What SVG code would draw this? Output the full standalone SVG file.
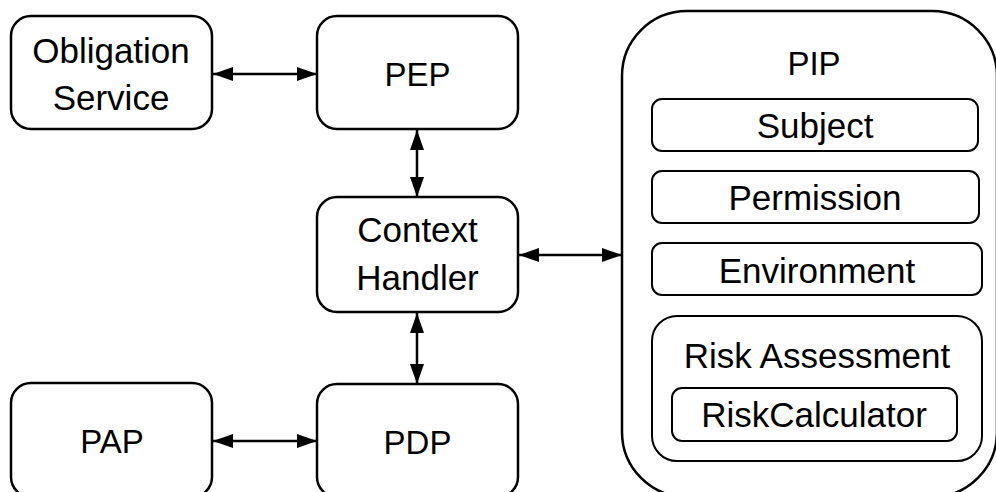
<svg xmlns="http://www.w3.org/2000/svg" width="996" height="492" viewBox="0 0 996 492">
  <style>
    .box { fill: #ffffff; stroke: #000000; stroke-width: 2.5; }
    .inner { fill: #ffffff; stroke: #000000; stroke-width: 2; }
    .lbl { font-family: "Liberation Sans", Arial, sans-serif; font-size: 35px; fill: #000000; text-anchor: middle; }
    .lbl.acr { font-size: 33px; }
    .link { stroke: #000000; stroke-width: 2.5; fill: none; marker-start: url(#head); marker-end: url(#head); }
  </style>
  <defs>
    <marker id="head" markerUnits="userSpaceOnUse" markerWidth="20" markerHeight="14" refX="20" refY="7" orient="auto-start-reverse" viewBox="0 0 20 14">
      <path d="M0,0 L20,7 L0,14 Z" fill="#000000"/>
    </marker>
  </defs>
  <rect width="996" height="492" fill="#ffffff"/>

  <!-- connectors -->
  <g id="connectors">
    <line class="link" x1="213" y1="74" x2="317" y2="74"/>
    <line class="link" x1="417" y1="130" x2="417" y2="197"/>
    <line class="link" x1="519" y1="255" x2="622" y2="255"/>
    <line class="link" x1="417" y1="313" x2="417" y2="384"/>
    <line class="link" x1="213" y1="441" x2="317" y2="441"/>
  </g>

  <g id="obligation-service">
    <rect class="box" x="11" y="16" width="201" height="113" rx="20"/>
    <text class="lbl" x="111" y="63">Obligation</text>
    <text class="lbl" x="111" y="110">Service</text>
  </g>

  <g id="pep">
    <rect class="box" x="317" y="16" width="201" height="113" rx="20"/>
    <text class="lbl acr" x="417.5" y="86">PEP</text>
  </g>

  <g id="context-handler">
    <rect class="box" x="317" y="197" width="201" height="115" rx="20"/>
    <text class="lbl" x="417.5" y="242">Context</text>
    <text class="lbl" x="417.5" y="290">Handler</text>
  </g>

  <g id="pap">
    <rect class="box" x="11" y="383" width="201" height="114" rx="20"/>
    <text class="lbl acr" x="112" y="453">PAP</text>
  </g>

  <g id="pdp">
    <rect class="box" x="317" y="384" width="201" height="113" rx="20"/>
    <text class="lbl acr" x="417.5" y="454">PDP</text>
  </g>

  <g id="pip">
    <rect class="box" x="622" y="11" width="375" height="486" rx="65"/>
    <text class="lbl acr" x="814" y="75">PIP</text>

    <g id="subject">
      <rect class="inner" x="652" y="99" width="326" height="52" rx="10"/>
      <text class="lbl" x="815" y="138">Subject</text>
    </g>

    <g id="permission">
      <rect class="inner" x="652" y="171" width="327" height="52" rx="10"/>
      <text class="lbl" x="815" y="210">Permission</text>
    </g>

    <g id="environment">
      <rect class="inner" x="652" y="243" width="330" height="52" rx="10"/>
      <text class="lbl" x="817" y="283">Environment</text>
    </g>

    <g id="risk-assessment">
      <rect class="inner" x="652" y="316" width="330" height="145" rx="25"/>
      <text class="lbl" x="817" y="368">Risk Assessment</text>
      <g id="risk-calculator">
        <rect class="inner" x="672" y="388" width="285" height="53" rx="10"/>
        <text class="lbl" x="814" y="427">RiskCalculator</text>
      </g>
    </g>
  </g>
</svg>
